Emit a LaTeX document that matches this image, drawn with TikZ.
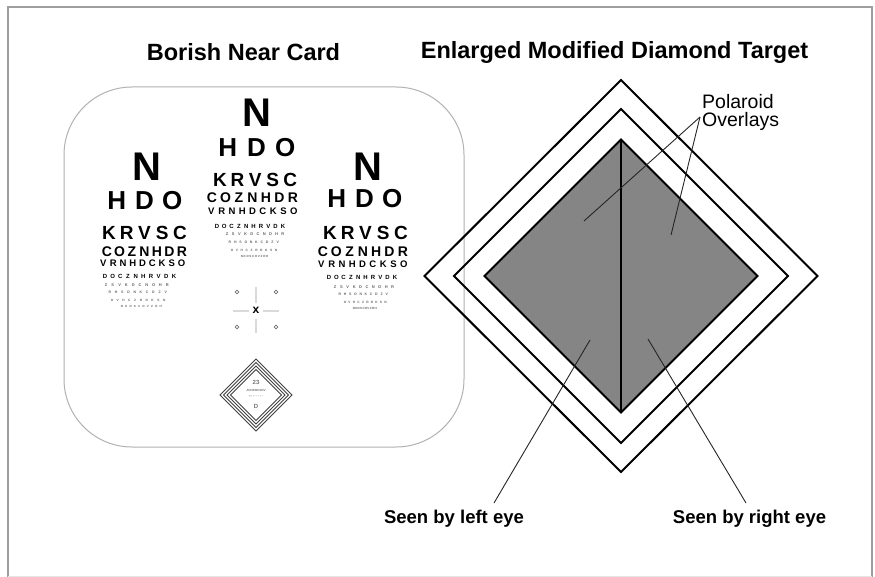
\documentclass[tikz,border=0pt]{standalone}
\usepackage{fontspec}
\setmainfont{Liberation Sans}
\begin{document}
\begin{tikzpicture}[x=1pt,y=-1pt,
  frameline/.style={draw=black!38,line width=2.2pt},
  title/.style={font=\bfseries\fontsize{23.5}{26}\selectfont,inner sep=0pt},
  lbl/.style={font=\bfseries\fontsize{18.5}{20}\selectfont,inner sep=0pt},
  card/.style={draw=black!30,line width=1pt,rounded corners=68pt},
  chartletter/.style={inner sep=0pt},
  bigN/.style={inner sep=0pt,font=\bfseries\fontsize{40}{40}\selectfont},
  ring/.style={draw=black,line width=2pt},
  minring/.style={draw=black!75,line width=0.8pt},
  leader/.style={draw=black!85,line width=0.9pt},
  crossline/.style={draw=black!15,line width=2.6pt}]
\useasboundingbox (0,0) rectangle (875,577);
\fill[white] (0,0) rectangle (875,577);
% frame
\draw[frameline] (8,577) -- (8,7) -- (872,7) -- (872,577);
\draw[draw=black!10,line width=1pt] (8,576.5) -- (872,576.5);
% titles
\node[title] (t1) at (243.5,52) {Borish Near Card};
\node[title] (t2) at (614.5,52) {Enlarged Modified Diamond Target};
% card
\draw[card] (64,87) rectangle (464,447);
\newcommand\crow[5]{\foreach \ch [count=\i from 0] in {#5}
  \node[chartletter,font=\bfseries\fontsize{#4}{#4}\selectfont] at ({#1+\i*#3},#2) {\ch};}
\newcommand\drow[5]{\foreach \ch [count=\i from 0] in {#5}
  \node[chartletter,text=black!60,font=\bfseries\fontsize{#4}{#4}\selectfont] at ({#1+\i*#3},#2) {\ch};}
% left column
\node[bigN] (nl) at (147,166.5) {N};
\crow{116.7}{200.5}{27.8}{26}{H,D,O}
\crow{108.9}{233}{17.8}{19}{K,R,V,S,C}
\crow{107}{252}{12.5}{14}{C,O,Z,N,H,D,R}
\crow{103.4}{263.5}{9.78}{9.5}{V,R,N,H,D,C,K,S,O}
\crow{105}{276}{7.67}{6}{D,O,C,Z,N,H,R,V,D,K}
\drow{106}{285.5}{6.8}{4}{Z,S,V,K,D,C,N,O,H,R}
\drow{110}{292.5}{6.2}{3.5}{R,H,S,O,N,K,C,D,Z,V}
\drow{112}{300}{5.8}{3.2}{O,V,H,C,Z,R,D,K,S,N}
\drow{122}{306.5}{4.3}{3}{N,K,D,S,C,O,V,Z,R,H}
% middle column
\node[bigN] (nm) at (257,112.5) {N};
\crow{227.7}{147.5}{28.8}{26}{H,D,O}
\crow{219.9}{180}{17.6}{19}{K,R,V,S,C}
\crow{212}{198}{13.5}{14}{C,O,Z,N,H,D,R}
\crow{211.4}{211}{10.3}{9.5}{V,R,N,H,D,C,K,S,O}
\crow{217}{226}{7.33}{6}{D,O,C,Z,N,H,R,V,D,K}
\drow{227}{234.5}{6.2}{4}{Z,S,V,K,D,C,N,O,H,R}
\drow{230}{242.5}{5.3}{3.5}{R,H,S,O,N,K,C,D,Z,V}
\drow{232}{250}{4.9}{3.2}{O,V,H,C,Z,R,D,K,S,N}
\drow{242}{256}{2.8}{3}{N,K,D,S,C,O,V,Z,R,H}
% right column
\node[bigN] (nr) at (368,166.5) {N};
\crow{336.7}{198.5}{27.8}{26}{H,D,O}
\crow{329.9}{233}{17.8}{19}{K,R,V,S,C}
\crow{323}{252}{13.3}{14}{C,O,Z,N,H,D,R}
\crow{321.4}{264}{10.3}{9.5}{V,R,N,H,D,C,K,S,O}
\crow{329}{277}{7.33}{6}{D,O,C,Z,N,H,R,V,D,K}
\drow{335}{287.5}{6.4}{4}{Z,S,V,K,D,C,N,O,H,R}
\drow{340}{294.5}{5.2}{3.5}{R,H,S,O,N,K,C,D,Z,V}
\drow{345}{302}{4.5}{3.2}{O,V,H,C,Z,R,D,K,S,N}
\drow{354}{308.5}{2.4}{3}{N,K,D,S,C,O,V,Z,R,H}
% fixation target
\draw[crossline] (233,311) -- (249,311) (263,311) -- (279,311)
  (256,287) -- (256,303) (256,319) -- (256,333);
\node[chartletter,font=\bfseries\fontsize{12}{12}\selectfont] (fx) at (256,310.5) {x};
\foreach \p/\q in {237/292,276/292,237/327,276/327}
  \draw[draw=black!55,line width=0.8pt] (\p,\q) circle (1.9);
% small diamond
\foreach \r in {36,32.5,29,25.5}
  \draw[minring] (256,395-\r) -- (256+\r,395) -- (256,395+\r) -- (256-\r,395) -- cycle;
\node[chartletter,text=black!55,font=\bfseries\fontsize{6}{6}\selectfont] (s1) at (256,382) {23};
\node[chartletter,text=black!55,font=\bfseries\fontsize{3}{3}\selectfont] (s2) at (256,390) {ZOHKDCSNV};
\node[chartletter,text=black!70,font=\bfseries\fontsize{3.5}{3.5}\selectfont] (s3) at (256,396.5) {\textbullet\,·\,·\,·\,·\,·\,·\,·};
\node[chartletter,text=black!55,font=\bfseries\fontsize{6}{6}\selectfont] (s4) at (256,406) {D};
% big diamond target
\draw[ring] (621,80) -- (817.5,276) -- (621,472) -- (424.5,276) -- cycle;
\draw[ring] (621,109) -- (788,276) -- (621,443) -- (454,276) -- cycle;
\draw[ring,fill=black!48] (621,139.5) -- (757.5,276) -- (621,412.5) -- (484.5,276) -- cycle;
\draw[draw=black,line width=1.6pt] (621,139.5) -- (621,412.5);
% labels
\node[font=\fontsize{19.5}{19}\selectfont,align=left,inner sep=0pt,anchor=north west] (po) at (702,94) {Polaroid\\[-1pt]Overlays};
\coordinate (pj) at (700,117);
\coordinate (pa) at (584,221);
\coordinate (pb) at (671,235);
\draw[leader] (pj) -- (pa);
\draw[leader] (pj) -- (pb);
\node[lbl] (le) at (454,519) {Seen by left eye};
\node[lbl] (re) at (749.5,519) {Seen by right eye};
\coordinate (la) at (590,340);
\coordinate (lb) at (494,503);
\coordinate (ra) at (648,339);
\coordinate (rb) at (746,503);
\draw[leader] (la) -- (lb);
\draw[leader] (ra) -- (rb);
\end{tikzpicture}
\end{document}
